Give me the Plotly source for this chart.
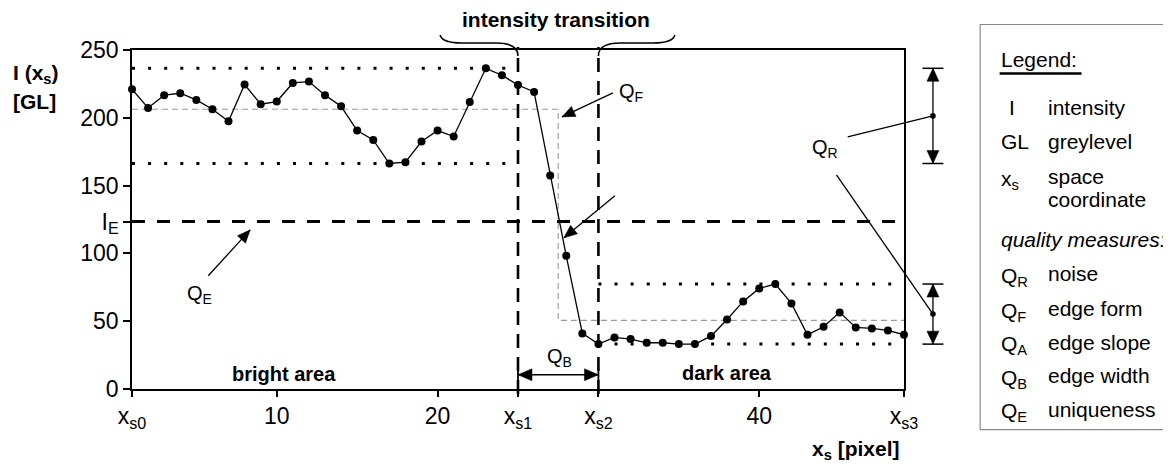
import plotly.graph_objects as go

# ---------------- data ----------------
x_pixel = list(range(1, 50))
intensity = [221.1, 207.3, 216.7, 218.1, 213.2, 206.3, 197.5, 224.5, 210.0, 212.0,
             225.7, 226.7, 216.7, 208.5, 190.6, 183.7, 166.3, 167.3, 182.5, 190.6,
             186.2, 211.7, 236.5, 231.4, 224.2, 219.1, 157.4, 98.2, 41.0, 33.1,
             38.0, 36.8, 34.1, 34.1, 33.1, 33.1, 39.0, 51.3, 64.6, 74.2,
             77.4, 63.1, 40.0, 45.9, 56.5, 45.4, 44.7, 43.2, 40.0]

xs0, xs1, xs2, xs3 = 1, 25, 30, 49
x_tick_vals = [xs0, 10, 20, xs1, xs2, 40, xs3]
x_tick_text = ["x<sub>s0</sub>", "10", "20", "x<sub>s1</sub>", "x<sub>s2</sub>", "40", "x<sub>s3</sub>"]

I_E = 123.5
y_tick_vals = [0, 50, 100, I_E, 150, 200, 250]
y_tick_text = ["0", "50", "100", "I<sub>E</sub>", "150", "200", "250"]

bright_level = 206.3
dark_level = 50.6
qb_level = 10.5

legend_symbols = ["I", "GL", "x<sub>s</sub>", "Q<sub>R</sub>", "Q<sub>F</sub>", "Q<sub>A</sub>", "Q<sub>B</sub>", "Q<sub>E</sub>"]
legend_labels = ["intensity", "greylevel", "space", "noise", "edge form", "edge slope", "edge width", "uniqueness"]

# ---------------- geometry helpers ----------------
FONT = "Liberation Sans, Arial, sans-serif"
OFF = 8                      # page body margin
FIG_W, FIG_H = 1171 - OFF, 465 - OFF
PL, PR, PT, PB = 131.7, 904.3, 50, 389.3     # plot area in screen pixels
L = PL - OFF
T = PT - OFF
R = FIG_W - (PR - OFF)
B = FIG_H - (PB - OFF)
W = PR - PL
H = PB - PT
X0, X1 = xs0, xs3
Y0, Y1 = 0, 250


def px(x):
    return PL + (x - X0) / (X1 - X0) * W


def py(y):
    return PT + (1 - (y - Y0) / (Y1 - Y0)) * H


def pfx(p):
    return (p - PL) / W


def pfy(p):
    return 1 - (p - PT) / H


bright = intensity[xs0 - 1:xs1]
dark = intensity[xs2 - 1:xs3]
b_max, b_min = max(bright), min(bright)
d_max, d_min = max(dark), min(dark)

shapes = []


def pline(x0, y0, x1, y1, width=1.3, color="black", dash=None):
    d = dict(type="line", xref="paper", yref="paper",
             x0=pfx(x0), y0=pfy(y0), x1=pfx(x1), y1=pfy(y1),
             line=dict(color=color, width=width))
    if dash:
        d["line"]["dash"] = dash
    shapes.append(d)


def tri(tx, ty, ux, uy, length=13, half=5.5):
    n = (ux ** 2 + uy ** 2) ** 0.5
    ux, uy = ux / n, uy / n
    bx, by = tx - ux * length, ty - uy * length
    nx, ny = -uy, ux
    pts = [(tx, ty), (bx + nx * half, by + ny * half), (bx - nx * half, by - ny * half)]
    path = "M " + " L ".join(f"{pfx(a):.5f},{pfy(b):.5f}" for a, b in pts) + " Z"
    shapes.append(dict(type="path", xref="paper", yref="paper", path=path,
                       fillcolor="black", line=dict(color="black", width=0.5)))


def arrow(x0, y0, x1, y1):
    pline(x0, y0, x1, y1, width=1.3)
    tri(x1, y1, x1 - x0, y1 - y0)


def dot(x, y, r=2.8):
    shapes.append(dict(type="circle", xref="paper", yref="paper",
                       x0=pfx(x - r), x1=pfx(x + r), y0=pfy(y + r), y1=pfy(y - r),
                       fillcolor="black", line=dict(color="black", width=0)))


# threshold I_E
shapes.append(dict(type="line", xref="x", yref="y", x0=xs0, x1=xs3, y0=I_E, y1=I_E,
                   line=dict(color="black", width=3, dash="13px,12px")))
# transition borders
for xv in (xs1, xs2):
    shapes.append(dict(type="line", xref="x", yref="paper", x0=xv, x1=xv,
                       y0=pfy(py(0) + 5), y1=pfy(47),
                       line=dict(color="black", width=2.6, dash="14px,9px")))
# dotted noise bands
for (xa, xb, lv) in ((xs0, xs1, b_max), (xs0, xs1, b_min), (xs2, xs3, d_max), (xs2, xs3, d_min)):
    shapes.append(dict(type="line", xref="x", yref="y", x0=xa, x1=xb, y0=lv, y1=lv,
                       line=dict(color="black", width=3, dash="3px,13.1px")))

# curly brace
bx1, bx2 = px(xs1), px(xs2)
brace_l = (f"M {pfx(440)},{pfy(35)} Q {pfx(442)},{pfy(43)} {pfx(462)},{pfy(43)} "
           f"L {pfx(bx1 - 22)},{pfy(43)} Q {pfx(bx1)},{pfy(43)} {pfx(bx1)},{pfy(56)}")
brace_r = (f"M {pfx(bx2)},{pfy(56)} Q {pfx(bx2)},{pfy(43)} {pfx(bx2 + 22)},{pfy(43)} "
           f"L {pfx(653)},{pfy(43)} Q {pfx(673)},{pfy(43)} {pfx(675)},{pfy(35)}")
for pth in (brace_l, brace_r):
    shapes.append(dict(type="path", xref="paper", yref="paper", path=pth,
                       line=dict(color="black", width=1.5)))

# noise error bars (Q_R)
qr_x = px(50.8)
for top, bot in ((b_max, b_min), (d_max, d_min)):
    yt, yb = py(top), py(bot)
    pline(qr_x, yt, qr_x, yb, width=1.3)
    pline(qr_x - 10.5, yt, qr_x + 10.5, yt, width=1.5)
    pline(qr_x - 10.5, yb, qr_x + 10.5, yb, width=1.5)
    tri(qr_x, yt, 0, -1, length=13, half=6)
    tri(qr_x, yb, 0, 1, length=13, half=6)
b_mid = py((b_max + b_min) / 2)
d_mid = py((d_max + d_min) / 2)
pline(848, 137, qr_x, b_mid, width=1.3)
pline(836.7, 175, qr_x, d_mid, width=1.3)
dot(qr_x, b_mid)
dot(qr_x, d_mid)

# Q_B double arrow
yq = py(qb_level)
pline(bx1, yq - 6, bx1, yq + 6, width=1.8)
pline(bx2, yq - 6, bx2, yq + 6, width=1.8)
pline(bx1, yq, bx2, yq, width=1.3)
tri(bx1, yq, -1, 0, length=14, half=6)
tri(bx2, yq, 1, 0, length=14, half=6)

# pointer arrows
arrow(208, 276, 250, 230)     # Q_E
arrow(613, 93, 562, 117)      # Q_F
arrow(615, 196, 564, 238)     # Q_A

# legend box and underline
shapes.append(dict(type="rect", xref="paper", yref="paper",
                   x0=pfx(980.5), x1=pfx(1185), y0=pfy(430), y1=pfy(24.5),
                   line=dict(color="#8a8a8a", width=1.2)))
pline(1000, 73.5, 1082, 73.5, width=2.5)

# ---------------- annotations ----------------
annotations = []


def text(x, y, s, size=20, xanchor="left", yanchor="middle", bold=False, italic=False):
    if bold:
        s = f"<b>{s}</b>"
    if italic:
        s = f"<i>{s}</i>"
    annotations.append(dict(x=pfx(x), y=pfy(y), xref="paper", yref="paper", text=s,
                            showarrow=False, xanchor=xanchor, yanchor=yanchor,
                            font=dict(family=FONT, size=size, color="black")))


text(556, 19, "intensity transition", size=21, xanchor="center", bold=True)
text(284, 374, "bright area", size=20, xanchor="center", bold=True)
text(727, 373, "dark area", size=20, xanchor="center", bold=True)
text(11, 74, "I (x<sub>s</sub>)", size=21, bold=True)
text(11, 102, "[GL]", size=21, bold=True)
text(856, 450, "x<sub>s</sub> [pixel]", size=21, xanchor="center", bold=True)

text(185, 295, "Q<sub>E</sub>", size=20)
text(617, 93, "Q<sub>F</sub>", size=20)
text(810, 149, "Q<sub>R</sub>", size=20)
text(545, 358, "Q<sub>B</sub>", size=20)

# legend
text(999, 60, "Legend:", size=21)
rows_y = [108, 141.7, 176.7, 274, 309, 342.5, 376, 409.5]
for sym, lab, yy in zip(legend_symbols, legend_labels, rows_y):
    sx = 1007 if sym == "I" else 999
    text(sx, yy + (3 if "<sub>" in sym else 0), sym, size=21)
    text(1046, yy, lab, size=21)
text(1046, 200, "coordinate", size=21)
text(999, 240, "quality measures:", size=21, italic=True)

# ---------------- figure ----------------
fig = go.Figure()
fig.add_trace(go.Scatter(x=[xs0, (xs1 + xs2) / 2, (xs1 + xs2) / 2, xs3],
                         y=[bright_level, bright_level, dark_level, dark_level],
                         mode="lines", line=dict(color="#9a9a9a", width=1.1, dash="6px,4px"),
                         hoverinfo="skip", showlegend=False))
fig.add_trace(go.Scatter(x=x_pixel, y=intensity, mode="lines+markers",
                         line=dict(color="black", width=1.3),
                         marker=dict(color="black", size=8),
                         cliponaxis=False, showlegend=False))

fig.update_layout(
    width=FIG_W, height=FIG_H,
    margin=dict(l=L, r=R, t=T, b=B, autoexpand=False),
    paper_bgcolor="white", plot_bgcolor="white",
    font=dict(family=FONT, size=23, color="black"),
    shapes=shapes, annotations=annotations, showlegend=False,
)
fig.update_xaxes(range=[X0, X1], tickmode="array", tickvals=x_tick_vals, ticktext=x_tick_text,
                 showgrid=False, zeroline=False, showline=True, linecolor="black", linewidth=1.5,
                 mirror=True, ticks="outside", ticklen=6, tickwidth=1.5, tickcolor="black",
                 tickfont=dict(family=FONT, size=23, color="black"))
fig.update_yaxes(range=[Y0, Y1], tickmode="array", tickvals=y_tick_vals, ticktext=y_tick_text,
                 showgrid=False, zeroline=False, showline=True, linecolor="black", linewidth=1.5,
                 mirror=True, ticks="outside", ticklen=7, tickwidth=1.5, tickcolor="black",
                 tickfont=dict(family=FONT, size=23, color="black"))

fig.write_html("out.html")
